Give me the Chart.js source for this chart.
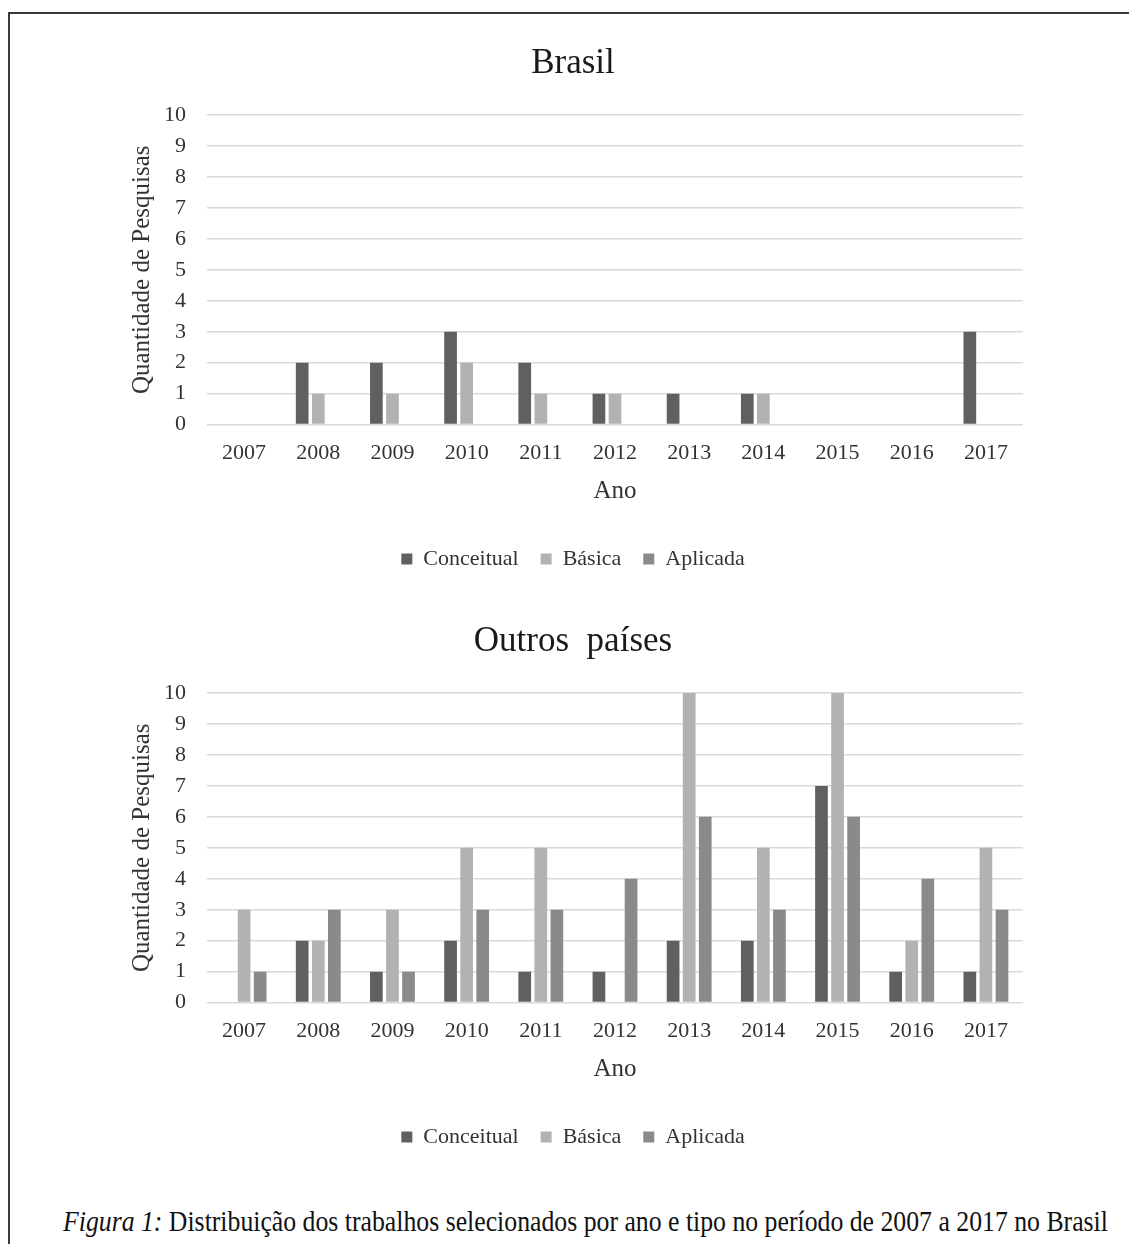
<!DOCTYPE html>
<html>
<head>
<meta charset="utf-8">
<script src="https://cdn.jsdelivr.net/npm/chart.js@4"></script>
<style>
  body { margin: 0; background: #fff; width: 1129px; height: 1244px; overflow: hidden; position: relative; }
  #frame { position: absolute; left: 8px; top: 12px; right: 0; bottom: 0; border-top: 2px solid #3a3a3a; border-left: 2px solid #3a3a3a; }
  .box { position: absolute; left: 10px; width: 1119px; height: 578px; }
  #caption { position: absolute; left: 63px; top: 1205px; font-family: "Liberation Serif", serif; font-size: 29px; color: #111; white-space: nowrap; transform: scaleX(0.888); transform-origin: left center; }
</style>
</head>
<body>
<div id="frame"></div>
<div class="box" style="top:20px"><canvas id="brasilChart"></canvas></div>
<div class="box" style="top:598px"><canvas id="outrosChart"></canvas></div>
<div id="caption"><i>Figura 1:</i> Distribuição dos trabalhos selecionados por ano e tipo no período de 2007 a 2017 no Brasil</div>
<script>
// dados
const anos = ['2007', '2008', '2009', '2010', '2011', '2012', '2013', '2014', '2015', '2016', '2017'];

const brasilConceitual = [0, 2, 2, 3, 2, 1, 1, 1, 0, 0, 3];
const brasilBasica = [0, 1, 1, 2, 1, 1, 0, 1, 0, 0, 0];
const brasilAplicada = [0, 0, 0, 0, 0, 0, 0, 0, 0, 0, 0];

const outrosConceitual = [0, 2, 1, 2, 1, 1, 2, 2, 7, 1, 1];
const outrosBasica = [3, 2, 3, 5, 5, 0, 10, 5, 10, 2, 5];
const outrosAplicada = [1, 3, 1, 3, 3, 4, 6, 3, 6, 4, 3];

const FONT = '"Liberation Serif", "Times New Roman", serif';
const TEXT = '#333';

function makeChart(id, titulo, conceitual, basica, aplicada) {
    const ctx = document.getElementById(id).getContext('2d');
    return new Chart(ctx, {
        type: 'bar',
        data: {
            labels: anos,
            datasets: [
                { label: 'Conceitual', data: conceitual, backgroundColor: '#606060' },
                { label: 'Básica', data: basica, backgroundColor: '#b2b2b2' },
                { label: 'Aplicada', data: aplicada, backgroundColor: '#8a8a8a' }
            ]
        },
        options: {
            responsive: true,
            maintainAspectRatio: false,
            animation: false,
            layout: { padding: { top: 13, left: 113, right: 106, bottom: 18 } },
            datasets: { bar: { categoryPercentage: 0.65, barPercentage: 0.79 } },
            plugins: {
                title: {
                    display: true,
                    text: titulo,
                    color: '#1a1a1a',
                    font: { family: FONT, size: 35, weight: 'normal' },
                    padding: { top: 10, bottom: 30 }
                },
                legend: {
                    position: 'bottom',
                    labels: {
                        color: TEXT,
                        font: { family: FONT, size: 22 },
                        boxWidth: 11,
                        boxHeight: 11,
                        padding: 22
                    }
                },
                tooltip: { enabled: false }
            },
            scales: {
                x: {
                    grid: { display: false, drawTicks: true, tickLength: 13, tickColor: 'transparent' },
                    border: { display: false },
                    ticks: { color: TEXT, font: { family: FONT, size: 22 }, padding: 2 },
                    title: {
                        display: true,
                        text: 'Ano',
                        color: TEXT,
                        font: { family: FONT, size: 25 },
                        padding: { top: 8, bottom: 20 }
                    }
                },
                y: {
                    min: 0,
                    max: 10,
                    grid: { color: '#d9d9d9', lineWidth: 1.5, drawTicks: true, tickLength: 19, tickColor: 'transparent' },
                    border: { display: false },
                    ticks: { stepSize: 1, color: TEXT, font: { family: FONT, size: 22 }, padding: 2 },
                    title: {
                        display: true,
                        text: 'Quantidade de Pesquisas',
                        color: TEXT,
                        font: { family: FONT, size: 25 },
                        padding: { top: 4, bottom: 5 }
                    }
                }
            }
        }
    });
}

makeChart('brasilChart', 'Brasil', brasilConceitual, brasilBasica, brasilAplicada);
makeChart('outrosChart', 'Outros  países', outrosConceitual, outrosBasica, outrosAplicada);
</script>
</body>
</html>
